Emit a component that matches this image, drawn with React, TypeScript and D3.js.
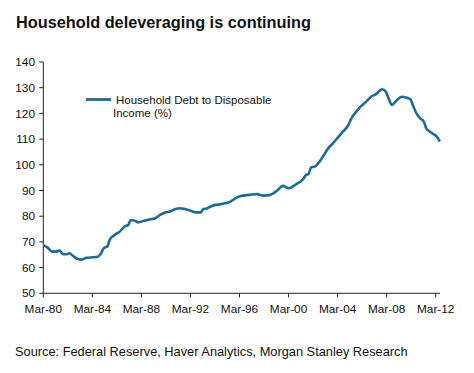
import React from "react";
import * as d3 from "d3";

const title = "Household deleveraging is continuing";
const source = "Source: Federal Reserve, Haver Analytics, Morgan Stanley Research";
const seriesName = ["Household Debt to Disposable", "Income (%)"];

// decimal years (Mar = .17)
const years = [
  1980.17, 1980.5, 1980.9, 1981.3, 1981.5, 1981.8, 1982.1, 1982.3, 1982.6, 1983.0,
  1983.3, 1983.7, 1984.2, 1984.6, 1984.8, 1985.1, 1985.4, 1985.6, 1986.0, 1986.4,
  1986.8, 1987.1, 1987.3, 1987.7, 1987.9, 1988.3, 1988.9, 1989.3, 1989.7, 1990.1,
  1990.5, 1990.9, 1991.3, 1991.7, 1992.2, 1992.6, 1993.0, 1993.2, 1993.5, 1993.8,
  1994.2, 1994.6, 1995.0, 1995.4, 1995.8, 1996.2, 1997.0, 1997.6, 1998.1, 1998.7,
  1999.3, 1999.7, 2000.2, 2000.8, 2001.3, 2001.6, 2001.8, 2002.0, 2002.3, 2002.6,
  2003.0, 2003.4, 2003.8, 2004.2, 2004.6, 2005.0, 2005.3, 2005.7, 2006.1, 2006.5,
  2006.9, 2007.3, 2007.6, 2007.8, 2008.1, 2008.3, 2008.6, 2008.9, 2009.4, 2009.8,
  2010.1, 2010.3, 2010.6, 2010.9, 2011.2, 2011.4, 2011.7, 2012.0, 2012.3, 2012.5,
];
const debtRatio = [
  68.6, 67.9, 66.2, 66.3, 66.6, 65.2, 65.2, 65.6, 64.5, 63.3,
  63.1, 63.8, 64.0, 64.2, 65.0, 67.5, 68.3, 71.0, 72.7, 74.0,
  76.0, 76.6, 78.5, 78.1, 77.6, 78.1, 78.8, 79.2, 80.5, 81.4,
  81.8, 82.7, 83.1, 82.8, 82.1, 81.5, 81.5, 82.7, 83.0, 83.7,
  84.4, 84.6, 85.0, 85.6, 86.8, 87.8, 88.3, 88.6, 88.0, 88.3,
  90.2, 91.8, 90.9, 92.5, 94.1, 96.0, 96.4, 99.0, 99.3, 100.6,
  103.4, 106.4, 108.4, 110.7, 112.9, 115.1, 118.1, 120.7, 122.9, 124.6,
  126.5, 127.5, 128.8, 129.4, 128.4, 126.3, 123.3, 124.6, 126.5, 126.1,
  125.5, 123.3, 120.0, 118.1, 116.8, 114.2, 112.9, 111.9, 110.7, 109.0,
];

const xTickValues = [1980.17, 1984.17, 1988.17, 1992.17, 1996.17, 2000.17, 2004.17, 2008.17, 2012.17];
const xTickLabels = ["Mar-80", "Mar-84", "Mar-88", "Mar-92", "Mar-96", "Mar-00", "Mar-04", "Mar-08", "Mar-12"];
const yTickValues = [50, 60, 70, 80, 90, 100, 110, 120, 130, 140];

const FONT = "'Liberation Sans', Arial, sans-serif";
const LINE_COLOR = "#1f6b93";

export default function App() {
  const x = d3.scaleLinear().domain([1980.17, 2012.52]).range([43.3, 440]);
  const y = d3.scaleLinear().domain([50, 140]).range([293.3, 62]);
  const data = years.map((yr, i) => [yr, debtRatio[i]] as [number, number]);
  const line = d3
    .line<[number, number]>()
    .x((d) => x(d[0]))
    .y((d) => y(d[1]))
    .curve(d3.curveMonotoneX);

  const [x0, x1] = x.range();
  const [y0, y1] = y.range();

  return (
    <svg
      width={474}
      height={373}
      style={{ position: "absolute", left: 0, top: 0, background: "#fff" }}
      fontFamily={FONT}
    >
      <text x={16} y={28} fontSize={16.3} fontWeight="bold" fill="#111">
        {title}
      </text>

      {/* y axis */}
      <line x1={x0} x2={x0} y1={y1} y2={y0} stroke="#222" strokeWidth={1} />
      {yTickValues.map((v) => (
        <g key={v}>
          <line x1={x0 - 4} x2={x0} y1={y(v)} y2={y(v)} stroke="#222" strokeWidth={1} />
          <text x={35} y={y(v)} dy="0.35em" textAnchor="end" fontSize={11.8} fill="#111">
            {v}
          </text>
        </g>
      ))}

      {/* x axis */}
      <line x1={x0} x2={x1} y1={y0} y2={y0} stroke="#222" strokeWidth={1} />
      {xTickValues.map((v, i) => (
        <g key={v}>
          <line x1={x(v)} x2={x(v)} y1={y0} y2={y0 + 4} stroke="#222" strokeWidth={1} />
          <text x={x(v)} y={313} textAnchor="middle" fontSize={11.8} fill="#111">
            {xTickLabels[i]}
          </text>
        </g>
      ))}

      <path d={line(data) || ""} fill="none" stroke={LINE_COLOR} strokeWidth={2.6} strokeLinejoin="round" />

      {/* legend */}
      <line x1={86} x2={111} y1={99.5} y2={99.5} stroke={LINE_COLOR} strokeWidth={2.8} />
      <text x={116} y={104} fontSize={11.5} fill="#111">
        {seriesName[0]}
      </text>
      <text x={113} y={116.5} fontSize={11.5} fill="#111">
        {seriesName[1]}
      </text>

      <text x={15} y={356} fontSize={12.8} fill="#111">
        {source}
      </text>
    </svg>
  );
}
